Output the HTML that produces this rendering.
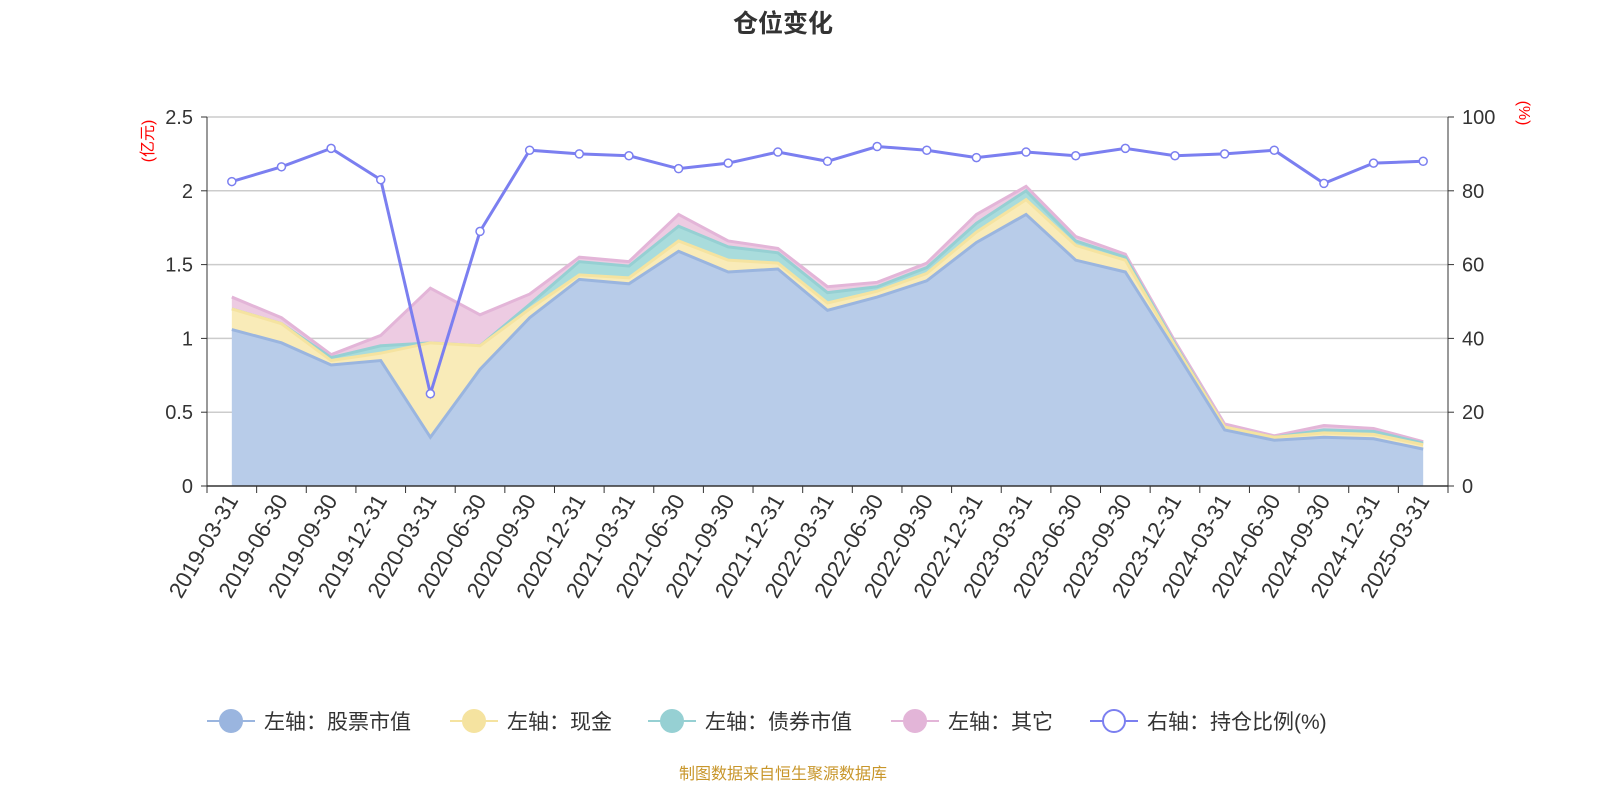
<!DOCTYPE html>
<html><head><meta charset="utf-8"><style>
body{margin:0;background:#fff;width:1600px;height:800px;overflow:hidden;font-family:"Liberation Sans","Noto Sans CJK SC",sans-serif}
</style></head><body>
<svg id="s" width="1600" height="800" xmlns="http://www.w3.org/2000/svg" font-family="Liberation Sans, Noto Sans CJK SC, sans-serif"></svg>
<script>
const L=207,R=1448,T=117,B=486;
const dates=["2019-03-31","2019-06-30","2019-09-30","2019-12-31","2020-03-31","2020-06-30","2020-09-30","2020-12-31","2021-03-31","2021-06-30","2021-09-30","2021-12-31","2022-03-31","2022-06-30","2022-09-30","2022-12-31","2023-03-31","2023-06-30","2023-09-30","2023-12-31","2024-03-31","2024-06-30","2024-09-30","2024-12-31","2025-03-31"];
const d=[[1.06,1.2,1.2,1.28,82.5],[0.97,1.1,1.1,1.14,86.5],[0.82,0.85,0.87,0.89,91.5],[0.85,0.9,0.95,1.02,83],[0.33,0.97,0.97,1.34,25],[0.79,0.95,0.95,1.16,69],[1.14,1.2,1.23,1.30,91],[1.40,1.43,1.52,1.55,90],[1.37,1.41,1.49,1.52,89.5],[1.59,1.66,1.76,1.84,86],[1.45,1.53,1.62,1.66,87.5],[1.47,1.51,1.58,1.61,90.5],[1.19,1.24,1.31,1.35,88],[1.28,1.32,1.35,1.38,92],[1.39,1.44,1.48,1.51,91],[1.65,1.72,1.78,1.84,89],[1.84,1.94,2.00,2.03,90.5],[1.53,1.63,1.66,1.69,89.5],[1.45,1.53,1.55,1.57,91.5],[0.92,0.95,0.96,0.98,89.5],[0.38,0.40,0.40,0.42,90],[0.31,0.33,0.33,0.34,91],[0.33,0.36,0.38,0.41,82],[0.32,0.35,0.37,0.39,87.5],[0.25,0.28,0.29,0.30,88]];
const bw=(R-L)/25,X=i=>L+bw*(i+.5),Y=v=>B-v/2.5*(B-T),Y2=v=>B-v/100*(B-T);
let h='';
h+=`<text x="783" y="32" text-anchor="middle" font-size="25" font-weight="bold" fill="#333">仓位变化</text>`;
for(let k=1;k<=5;k++){let y=B-k*(B-T)/5;h+=`<line x1="${L}" x2="${R}" y1="${y}" y2="${y}" stroke="#ccc" stroke-width="1.5"/>`;}
const cols=[["#b8cce9","#9ab5df"],["#f9ebb8","#f5e3a0"],["#a9dcdc","#96d0d3"],["#edcbe2","#e3b5d8"]];
for(let s=3;s>=0;s--){let top=d.map((r,i)=>X(i)+','+Y(r[s])).join(' ');let bot=s==0?`${X(24)},${B} ${X(0)},${B}`:d.map((r,i)=>X(i)+','+Y(r[s-1])).reverse().join(' ');
h+=`<polygon points="${top} ${bot}" fill="${cols[s][0]}"/><polyline points="${top}" fill="none" stroke="${cols[s][1]}" stroke-width="3"/>`;}
h+=`<line x1="${L}" x2="${L}" y1="${T}" y2="${B}" stroke="#333"/><line x1="${R}" x2="${R}" y1="${T}" y2="${B}" stroke="#333"/><line x1="${L}" x2="${R}" y1="${B}" y2="${B}" stroke="#333" stroke-width="1.5"/>`;
const lv=["0","0.5","1","1.5","2","2.5"];
for(let k=0;k<=5;k++){let y=B-k*(B-T)/5;h+=`<line x1="${L-6}" x2="${L}" y1="${y}" y2="${y}" stroke="#333"/><line x1="${R}" x2="${R+6}" y1="${y}" y2="${y}" stroke="#333"/><text x="${L-14}" y="${y+7}" text-anchor="end" font-size="20" fill="#333">${lv[k]}</text><text x="${R+14}" y="${y+7}" font-size="20" fill="#333">${k*20}</text>`;}
for(let i=0;i<=25;i++){let x=L+bw*i;h+=`<line x1="${x}" x2="${x}" y1="${B}" y2="${B+7}" stroke="#333"/>`;}
dates.forEach((t,i)=>{h+=`<text transform="translate(${X(i)+7},${B+14}) rotate(-60)" text-anchor="end" font-size="22.5" fill="#333">${t}</text>`;});
h+=`<text transform="translate(153,141) rotate(-90)" text-anchor="middle" font-size="16" fill="red">(亿元)</text><text transform="translate(1519,113) rotate(90)" text-anchor="middle" font-size="16" fill="red">(%)</text>`;
let rp=d.map((r,i)=>X(i)+','+Y2(r[4])).join(' ');
h+=`<polyline points="${rp}" fill="none" stroke="#7b7ff0" stroke-width="3"/>`;
d.forEach((r,i)=>h+=`<circle cx="${X(i)}" cy="${Y2(r[4])}" r="4" fill="#fff" stroke="#7b7ff0" stroke-width="1.5"/>`);
const lg=[[207,"左轴：股票市值","#9ab5df",1],[450,"左轴：现金","#f5e3a0",1],[648,"左轴：债券市值","#96d0d3",1],[891,"左轴：其它","#e3b5d8",1],[1090,"右轴：持仓比例(%)","#7b7ff0",0]];
lg.forEach(([x,t,c,f])=>{h+=`<line x1="${x}" x2="${x+48}" y1="721" y2="721" stroke="${c}" stroke-width="2"/><circle cx="${x+24}" cy="721" r="11" fill="${f?c:'#fff'}" stroke="${c}" stroke-width="2"/><text x="${x+57}" y="729" font-size="21" fill="#333">${t}</text>`;});
h+=`<text x="783" y="779" text-anchor="middle" font-size="16" fill="#c8962a">制图数据来自恒生聚源数据库</text>`;
document.getElementById('s').innerHTML=h;
</script>
</body></html>
